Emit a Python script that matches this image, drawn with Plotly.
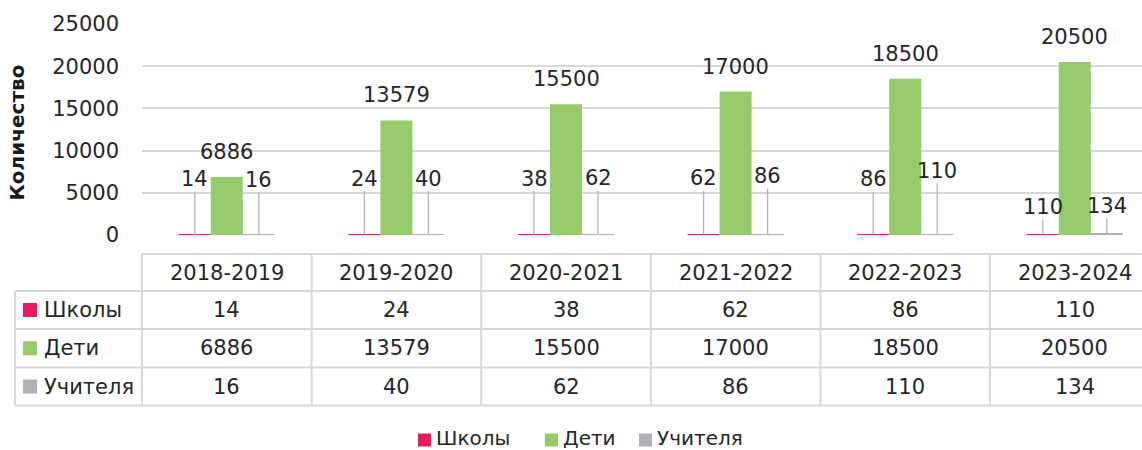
import plotly.graph_objects as go

# ---------------- data ----------------
categories = ["2018-2019", "2019-2020", "2020-2021", "2021-2022", "2022-2023", "2023-2024"]
series_names = ["Школы", "Дети", "Учителя"]
schools = [14, 24, 38, 62, 86, 110]
children = [6886, 13579, 15500, 17000, 18500, 20500]
teachers = [16, 40, 62, 86, 110, 134]
y_ticks = [0, 5000, 10000, 15000, 20000, 25000]
y_title = "Количество"

# ---------------- style / layout ----------------
colors = ["#EA1A5E", "#96CB6B", "#AFAFB4"]
text_color = "#262626"
grid_color = "#D9D9D9"
font_family = "'DejaVu Sans', sans-serif"
fs = 21

# leader-label vertical offsets (px, relative to bar top)
schools_label_dy = [-56, -56, -56, -56, -55, -27]
teachers_label_dy = [-55, -56, -56, -58, -63, -28]
bar_px = 32  # bar width in px, used for leader x shift

W, H = 1142, 450
PL, PR, PT, PB = 142, 1142, 24, 235
cat_px = 169.6
x0 = -0.5
x1 = x0 + (PR - PL) / cat_px


def pxp(px):
    return (px - PL) / (PR - PL)


def pyp(py):
    return (PB - py) / (PB - PT)


def cat_paper(v):
    return (v - x0) / (x1 - x0)


series = [schools, children, teachers]

fig = go.Figure()
for name, vals, col in zip(series_names, series, colors):
    fig.add_trace(go.Bar(x=categories, y=vals, name=name, marker_color=col,
                         marker_line_width=0, showlegend=False, hoverinfo="x+y+name"))

annotations = []
# labels on children bars
for c, v in zip(categories, children):
    annotations.append(dict(x=c, y=v, xref="x", yref="y", text=str(v), showarrow=False,
                            yshift=25, yanchor="middle", font=dict(size=fs, color=text_color)))
# leader labels for small series
for vals, dys, sh in [(schools, schools_label_dy, -bar_px), (teachers, teachers_label_dy, bar_px)]:
    for c, v, dy in zip(categories, vals, dys):
        annotations.append(dict(x=c, y=v, xref="x", yref="y", text=str(v), showarrow=True,
                                arrowhead=0, arrowwidth=1.3, arrowcolor="#B4B4BA",
                                ax=0, ay=dy, xshift=sh, borderpad=0,
                                font=dict(size=fs, color=text_color)))

# y axis title
annotations.append(dict(x=pxp(16.5), y=pyp(133), xref="paper", yref="paper", text="<b>" + y_title + "</b>",
                        textangle=-90, showarrow=False, xanchor="center", yanchor="middle",
                        font=dict(size=20, color="#1a1a1a")))

# ---------------- data table ----------------
row_lines = [254, 291, 329, 367.5, 405.5]
table_left = 15
line_style = dict(color=grid_color, width=2)
shapes = []
# horizontal lines
shapes.append(dict(type="line", xref="paper", yref="paper", x0=0, x1=1.02,
                   y0=pyp(row_lines[0]), y1=pyp(row_lines[0]), line=line_style))
for yl in row_lines[1:]:
    shapes.append(dict(type="line", xref="paper", yref="paper", x0=pxp(table_left), x1=1.02,
                       y0=pyp(yl), y1=pyp(yl), line=line_style))
# vertical lines
shapes.append(dict(type="line", xref="paper", yref="paper", x0=pxp(table_left), x1=pxp(table_left),
                   y0=pyp(row_lines[1]), y1=pyp(row_lines[-1]), line=line_style))
for i in range(len(categories)):
    xv = cat_paper(i - 0.5)
    shapes.append(dict(type="line", xref="paper", yref="paper", x0=xv, x1=xv,
                       y0=pyp(row_lines[0]), y1=pyp(row_lines[-1]), line=line_style))

# header texts
hc = (row_lines[0] + row_lines[1]) / 2
for c in categories:
    annotations.append(dict(x=c, y=pyp(hc), xref="x", yref="paper", text=c, showarrow=False,
                            xanchor="center", yanchor="middle", font=dict(size=fs, color=text_color)))
# body rows
for r, (name, vals, col) in enumerate(zip(series_names, series, colors)):
    rc = (row_lines[r + 1] + row_lines[r + 2]) / 2
    shapes.append(dict(type="rect", xref="paper", yref="paper", x0=pxp(23), x1=pxp(37),
                       y0=pyp(rc + 7), y1=pyp(rc - 7), fillcolor=col, line=dict(width=0)))
    annotations.append(dict(x=pxp(42), y=pyp(rc), xref="paper", yref="paper", text=name, showarrow=False,
                            xanchor="left", yanchor="middle", font=dict(size=fs, color=text_color)))
    for c, v in zip(categories, vals):
        annotations.append(dict(x=c, y=pyp(rc), xref="x", yref="paper", text=str(v), showarrow=False,
                                xanchor="center", yanchor="middle", font=dict(size=fs, color=text_color)))

# ---------------- bottom legend ----------------
legend_y = 438
legend_sq_x = [418, 545, 639]
for name, col, lx in zip(series_names, colors, legend_sq_x):
    shapes.append(dict(type="rect", xref="paper", yref="paper", x0=pxp(lx), x1=pxp(lx + 13),
                       y0=pyp(legend_y + 8.5), y1=pyp(legend_y - 4.5), fillcolor=col, line=dict(width=0)))
    annotations.append(dict(x=pxp(lx + 17), y=pyp(legend_y), xref="paper", yref="paper", text=name,
                            showarrow=False, xanchor="left", yanchor="middle", borderpad=0,
                            font=dict(size=20, color=text_color)))

fig.update_layout(
    width=W, height=H,
    margin=dict(l=PL, r=W - PR, t=PT, b=H - PB, pad=0),
    paper_bgcolor="white", plot_bgcolor="white",
    font=dict(family=font_family, size=fs, color=text_color),
    barmode="group", bargap=0.434, bargroupgap=0,
    annotations=annotations, shapes=shapes,
    showlegend=False,
)
fig.update_xaxes(type="category", range=[x0, x1], showticklabels=False, showgrid=False,
                 zeroline=False, showline=False, ticks="")
fig.update_yaxes(range=[0, 25000], tickvals=y_ticks, tickformat="d", showgrid=True,
                 gridcolor=grid_color, gridwidth=1.5, zeroline=False, showline=False,
                 ticks="", ticklabelstandoff=22, tickfont=dict(size=fs, color=text_color))

fig.write_html("out.html", config={"displayModeBar": False},
               post_script="document.body.style.margin='0';document.body.style.padding='0';")
